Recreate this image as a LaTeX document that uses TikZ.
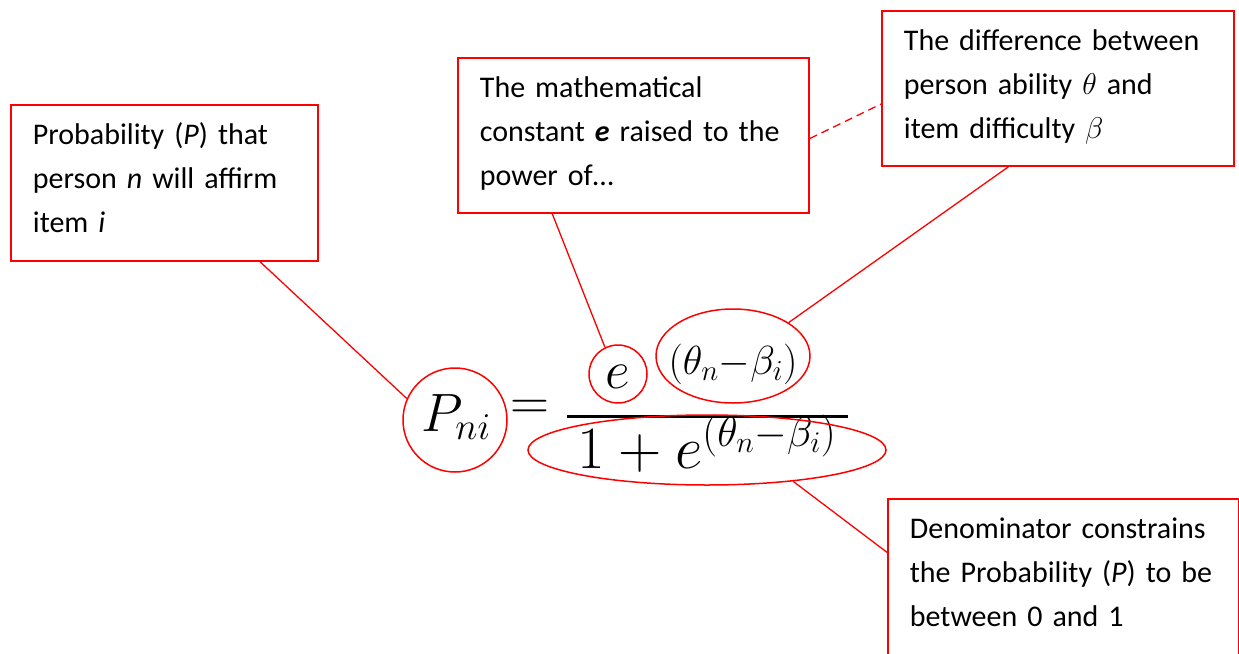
\RequirePackage{fix-cm}
\documentclass[tikz,border=0pt]{standalone}
\usepackage[no-math]{fontspec}
\setmainfont{Carlito}
\usetikzlibrary{calc,shapes.geometric}

\tikzset{
  note/.style={draw=red, line width=1.8pt, anchor=north west, align=left,
    inner xsep=22pt, inner ysep=0pt, text height=40pt, text depth=115pt,
    font=\fontsize{30}{44}\selectfont},
  ring/.style={draw=red, line width=1.5pt, inner sep=0pt},
  link/.style={draw=red, line width=1.3pt},
  big/.style={font=\fontsize{54}{60}\selectfont}
}

\begin{document}
\begin{tikzpicture}[x=1pt,y=-1pt]
\useasboundingbox (0,0) rectangle (1239,653);
% the formula
\node[big, anchor=base] (pni) at (456,431) {$P_{ni}$};
\node[big] (eqsign) at (530,410) {$=$};
\node[big, anchor=base] (num) at (618,388) {$e$};
\node[anchor=base, font=\fontsize{58}{60}\selectfont] (expo) at (733,374) {$\scriptstyle(\theta_n-\beta_i)$};
\draw[line width=3pt] (567,416) -- (848,416);
\node[anchor=base, font=\fontsize{60}{60}\selectfont] (den) at (707,468) {$1+e^{(\theta_n-\beta_i)}$};
% rings round the parts
\node[ring, circle, minimum size=104pt] (pring) at (455,420) {};
\node[ring, circle, minimum size=58pt] (ering) at (618,374) {};
\node[ring, ellipse, minimum width=154pt, minimum height=94pt] (expring) at (733,356) {};
\node[ring, ellipse, minimum width=358pt, minimum height=70pt] (denring) at (707,450) {};
% notes
\node[note, text width=263pt, text depth=116pt] (prob) at (10,104)
  {Probability (\textit{P}) that\\ person \textit{n} will affirm\\ item \textit{i}};
\node[note, text width=307pt] (const) at (457,57)
  {The mathematical\\ constant \textbf{\textit{e}} raised to the\\ power of\dots};
\node[note, text width=308pt] (diff) at (881,10)
  {The difference between\\ person ability $\theta$ and\\ item difficulty $\beta$};
\node[note, text width=307pt, text depth=118pt] (denom) at (887,498)
  {Denominator constrains\\ the Probability (\textit{P}) to be\\ between 0 and 1};
% connectors
\draw[link] ($(prob.south west)!0.81!(prob.south east)$) -- (pring.156);
\draw[link] ($(const.south west)!0.27!(const.south east)$) -- (ering.116);
\draw[link, dash pattern=on 8pt off 5pt] ($(const.north east)!0.52!(const.south east)$)
  -- ($(diff.north west)!0.6!(diff.south west)$);
\draw[link] ($(diff.south west)!0.36!(diff.south east)$) -- (expring.31);
\draw[link] (denring.-20) -- ($(denom.north west)!0.34!(denom.south west)$);
\end{tikzpicture}
\end{document}
